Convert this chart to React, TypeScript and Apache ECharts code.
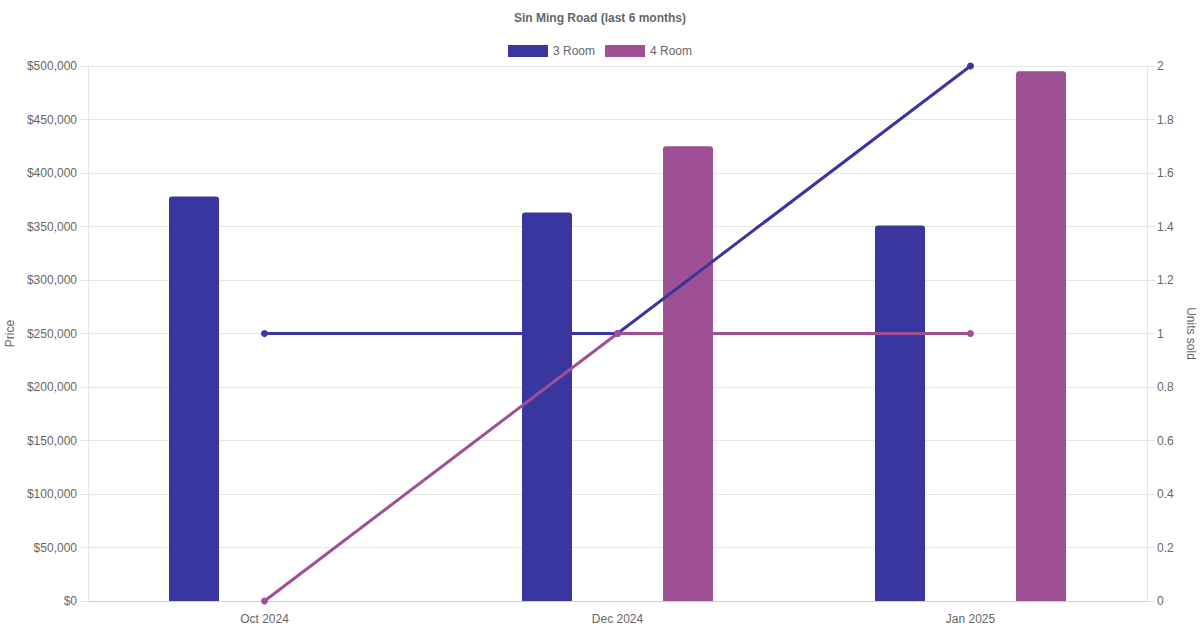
import React, { useEffect, useRef } from "react";
import * as echarts from "echarts";

const categories = ["Oct 2024", "Dec 2024", "Jan 2025"];
const price3Room = [378000, 363000, 351000];
const price4Room: (number | null)[] = [null, 425000, 495000];
const units3Room = [1, 1, 2];
const units4Room = [0, 1, 1];

const COLOR_3 = "#3a36a0";
const COLOR_4 = "#9f5094";
const FONT = "'Liberation Sans', Arial, Helvetica, sans-serif";
const TEXT = "#666666";

export default function App() {
  const ref = useRef<HTMLDivElement>(null);
  useEffect(() => {
    if (!ref.current) return;
    const chart = echarts.init(ref.current, null, { renderer: "svg" });
    chart.setOption({
      animation: false,
      textStyle: { fontFamily: FONT },
      title: {
        text: "Sin Ming Road (last 6 months)",
        left: "center",
        top: 7,
        textStyle: { fontSize: 12, fontWeight: "bold", color: TEXT, fontFamily: FONT },
      },
      legend: {
        data: ["3 Room", "4 Room"],
        top: 40,
        left: "center",
        icon: "rect",
        itemWidth: 40,
        itemHeight: 12,
        itemGap: 10,
        textStyle: { fontSize: 12, color: TEXT, fontFamily: FONT },
      },
      grid: { left: 88, right: 53, top: 66, bottom: 29, containLabel: false, outerBoundsMode: "none" },
      xAxis: {
        type: "category",
        data: categories,
        boundaryGap: true,
        axisLine: { show: true, lineStyle: { color: "#cfcfcf" } },
        axisTick: { show: false },
        axisLabel: { color: TEXT, fontSize: 12, margin: 12, fontFamily: FONT },
        splitLine: { show: false },
      },
      yAxis: [
        {
          type: "value",
          min: 0,
          max: 500000,
          interval: 50000,
          name: "Price",
          nameLocation: "middle",
          nameGap: 71,
          nameTextStyle: { color: TEXT, fontSize: 12, fontFamily: FONT },
          axisLine: { show: true, lineStyle: { color: "#e5e5e5" } },
          axisTick: { show: true, length: 8, lineStyle: { color: "#e5e5e5" } },
          axisLabel: {
            color: TEXT,
            fontSize: 12,
            margin: 11,
            fontFamily: FONT,
            formatter: (v: number) => "$" + v.toLocaleString("en-US"),
          },
          splitLine: { show: true, lineStyle: { color: "#e5e5e5" } },
        },
        {
          type: "value",
          min: 0,
          max: 2,
          interval: 0.2,
          position: "right",
          name: "Units sold",
          nameLocation: "middle",
          nameGap: 36,
          nameRotate: -90,
          nameTextStyle: { color: TEXT, fontSize: 12, fontFamily: FONT },
          axisLine: { show: true, lineStyle: { color: "#e5e5e5" } },
          axisTick: { show: true, length: 8, lineStyle: { color: "#e5e5e5" } },
          axisLabel: {
            color: TEXT,
            fontSize: 12,
            margin: 10,
            fontFamily: FONT,
            formatter: (v: number) => String(Math.round(v * 10) / 10),
          },
          splitLine: { show: false },
        },
      ],
      series: [
        {
          name: "3 Room",
          type: "bar",
          yAxisIndex: 0,
          data: price3Room,
          barWidth: 50,
          barGap: "182%",
          itemStyle: { color: COLOR_3, borderRadius: [3, 3, 0, 0] },
          z: 2,
        },
        {
          name: "4 Room",
          type: "bar",
          yAxisIndex: 0,
          data: price4Room,
          barWidth: 50,
          barGap: "182%",
          itemStyle: { color: COLOR_4, borderRadius: [3, 3, 0, 0] },
          z: 2,
        },
        {
          name: "3 Room",
          type: "line",
          yAxisIndex: 1,
          data: units3Room,
          symbol: "circle",
          symbolSize: 7,
          lineStyle: { color: COLOR_3, width: 3 },
          itemStyle: { color: COLOR_3 },
          z: 5,
        },
        {
          name: "4 Room",
          type: "line",
          yAxisIndex: 1,
          data: units4Room,
          symbol: "circle",
          symbolSize: 7,
          lineStyle: { color: COLOR_4, width: 3 },
          itemStyle: { color: COLOR_4 },
          z: 5,
        },
      ],
    });
    return () => chart.dispose();
  }, []);
  return (
    <div
      ref={ref}
      style={{ position: "fixed", left: 0, top: 0, width: 1200, height: 630, background: "#ffffff" }}
    />
  );
}
